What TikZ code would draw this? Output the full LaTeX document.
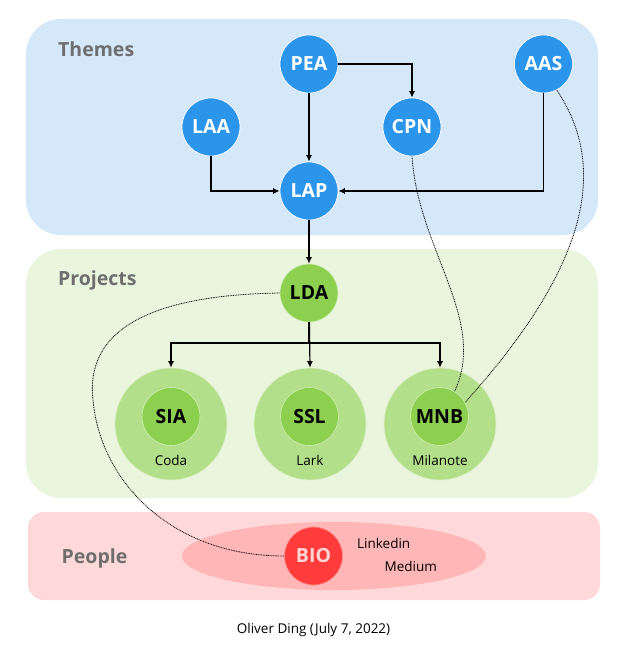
\documentclass[tikz,border=0pt]{standalone}
\usepackage{fontspec}
\setmainfont{Open Sans}
\usetikzlibrary{arrows.meta,calc,shapes.geometric}
\definecolor{bluepanel}{HTML}{D5E8FA}
\definecolor{bluenode}{HTML}{2B95EC}
\definecolor{greenpanel}{HTML}{E9F5DD}
\definecolor{greenouter}{HTML}{B3DF8A}
\definecolor{greeninner}{HTML}{8DD04F}
\definecolor{pinkpanel}{HTML}{FFD9D9}
\definecolor{pinkell}{HTML}{FFB6B6}
\definecolor{bionode}{HTML}{FF3B3B}
\definecolor{biotext}{HTML}{FFD5D5}
\definecolor{titlegray}{HTML}{6E6E6E}
\tikzset{
  title/.style={anchor=base west, text=titlegray, font=\fontsize{19.5}{22}\selectfont\bfseries, inner sep=0},
  theme/.style={circle, fill=bluenode, draw=white, line width=0.7pt, minimum size=58pt, inner sep=0,
    text=white, font=\fontsize{19.5}{22}\selectfont\bfseries},
  proj/.style={circle, fill=greeninner, draw=white!60!greeninner, line width=0.6pt, minimum size=58pt, inner sep=0,
    text=black, font=\fontsize{19.5}{22}\selectfont\bfseries},
  outer/.style={circle, fill=greenouter, draw=white!50!greenouter, line width=0.6pt, minimum size=112pt, inner sep=0},
  small/.style={inner sep=0, font=\fontsize{13.5}{16}\selectfont, text=black},
  arr/.style={draw=black, line width=1.2pt, -{Latex[length=6.5pt,width=6pt]}},
  plain/.style={draw=black, line width=1.2pt},
  dots/.style={draw=black, line width=0.8pt, dash pattern=on 0.9pt off 0.8pt}
}
\begin{document}
\begin{tikzpicture}[x=1pt,y=-1pt]
\useasboundingbox (0,0) rectangle (630,647);
% panels
\fill[bluepanel] (26,19) [rounded corners=35pt] rectangle (598,235);
\fill[greenpanel] (26,249) [rounded corners=35pt] rectangle (598,498);
\fill[pinkpanel] (28,512) [rounded corners=16pt] rectangle (600,600);
\node[title] (tthemes) at (58,57) {Themes};
\node[title] (tprojects) at (58,285) {Projects};
\node[title] (tpeople) at (61.5,563) {People};
% themes
\node[theme] (PEA) at (309,64) {PEA};
\node[theme] (AAS) at (543.5,64) {AAS};
\node[theme] (LAA) at (211,127) {LAA};
\node[theme] (CPN) at (412,127) {CPN};
\node[theme] (LAP) at (309,191) {LAP};
% projects
\node[proj] (LDA) at (309,293) {LDA};
\node[outer] (SIAo) at (171,424) {};
\node[outer] (SSLo) at (310,424) {};
\node[outer] (MNBo) at (440,424) {};
\node[proj] (SIA) at (171,416.5) {SIA};
\node[proj] (SSL) at (309.5,416.5) {SSL};
\node[proj] (MNB) at (439.5,416.5) {MNB};
\node[small, anchor=base] (coda) at (171,465) {Coda};
\node[small, anchor=base] (lark) at (310,465) {Lark};
\node[small, anchor=base] (milanote) at (440,465) {Milanote};
% people
\node[ellipse, fill=pinkell, minimum width=304pt, minimum height=68pt, inner sep=0] (ell) at (334,556) {};
\node[circle, fill=bionode, draw=white!40!bionode, line width=0.7pt, minimum size=58pt, inner sep=0,
  text=biotext, font=\fontsize{19.5}{22}\selectfont\bfseries] (BIO) at (313.5,556) {BIO};
\node[small, anchor=base west] (linkedin) at (357,548) {Linkedin};
\node[small, anchor=base west] (medium) at (384.5,571.5) {Medium};
\node[small, anchor=base] (author) at (313.5,633.5) {Oliver Ding (July 7, 2022)};
% arrows
\draw[arr] (PEA) -- (LAP);
\draw[arr] (PEA.east) -| (CPN.north);
\draw[arr] (LAA.south) |- (LAP.west);
\draw[arr] (AAS.south) |- (LAP.east);
\draw[arr] (LAP) -- (LDA);
\coordinate (br) at (309,343);
\draw[plain] (LDA.south) -- (br);
\draw[arr] (br) -| (SIAo.north);
\draw[arr] (br) -| (MNBo.north);
\draw[arr] (LDA) -- (SSLo.north);
% dotted relations
\draw[dots] (CPN.south) .. controls (418,250) and (488,320) .. (MNB.59);
\draw[dots] (AAS.-63) .. controls (607,165) and (592,262) .. (MNB.29);
\draw[dots] (LDA.west) .. controls (150,295) and (85,330) .. (93,400) .. controls (100,480) and (170,556) .. (BIO.west);
\end{tikzpicture}
\end{document}
